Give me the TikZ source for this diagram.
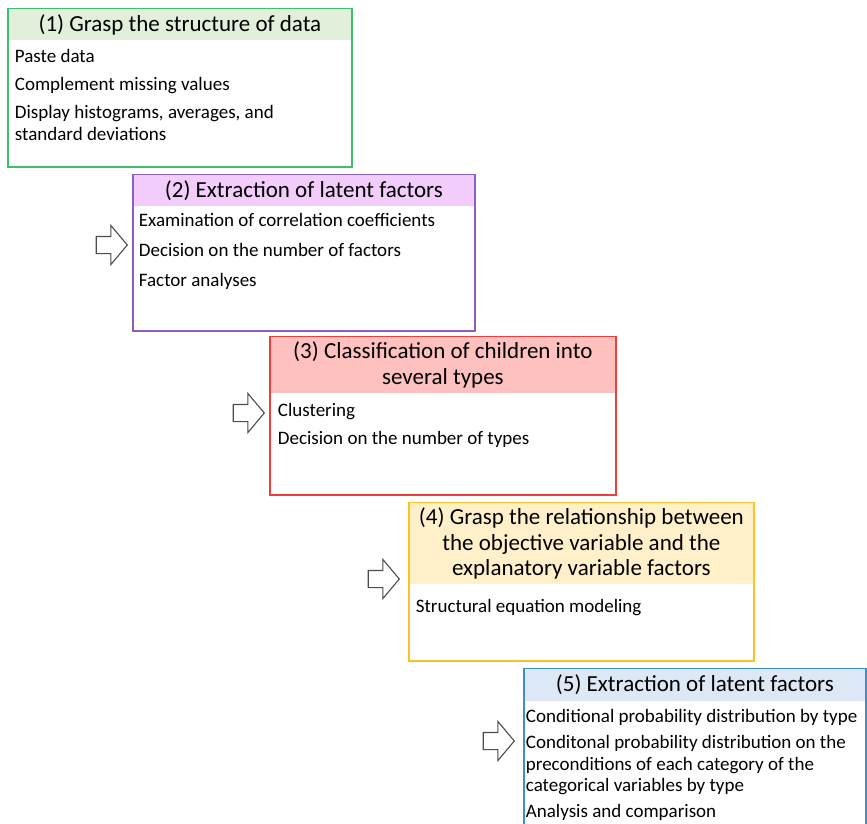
\documentclass[tikz,border=0pt]{standalone}
\usepackage{fontspec}
\setmainfont{Carlito}
\usepackage{tikz}
\usetikzlibrary{shapes.arrows, positioning}
\definecolor{stepgreen}{HTML}{3DBF6E}
\definecolor{steppurple}{HTML}{8C5EC2}
\definecolor{stepred}{HTML}{F03C3C}
\definecolor{stepgold}{HTML}{FFC12A}
\definecolor{stepblue}{HTML}{3F8DC9}
\definecolor{fillgreen}{HTML}{E2EFDA}
\definecolor{fillpurple}{HTML}{F2CCFA}
\definecolor{fillred}{HTML}{FFC0C0}
\definecolor{fillgold}{HTML}{FFF0C9}
\definecolor{fillblue}{HTML}{DCE8F5}

\begin{document}
\begin{tikzpicture}[x=1pt, y=-1pt,
        frame/.style={rectangle, draw=#1, line width=1.8pt, fill=white, anchor=north west, inner sep=0pt},
        head/.style={rectangle, fill=#1, anchor=north, inner sep=0pt, align=center, font=\fontsize{23}{25.5}\selectfont},
        items/.style={anchor=north west, inner sep=0pt, align=left, font=\fontsize{19}{22}\selectfont},
        blockarrow/.style={single arrow, draw=black!70, fill=white, line width=1.1pt, inner xsep=0pt, inner ysep=8pt, minimum height=31pt, single arrow head extend=11pt, single arrow tip angle=100, anchor=east}
    ]
        \useasboundingbox (0,0) rectangle (867,824);
        \clip (0,0) rectangle (867,824);

        % Boxes
        \node (step1) [frame=stepgreen, minimum width=344pt, minimum height=158pt] at (7,8) {};
        \node (head1) [head=fillgreen, minimum width=342pt, minimum height=31pt] at ([yshift=-0.9pt]step1.north) {(1) Grasp the structure of data};
        \node (body1) [items] at ([xshift=6pt, yshift=-9pt]head1.south west) {Paste data\\[6pt] Complement missing values\\[6pt] Display histograms, averages, and\\ standard deviations};

        \node (step2) [frame=steppurple, minimum width=342pt, minimum height=156pt] at (132,174) {};
        \node (head2) [head=fillpurple, minimum width=340pt, minimum height=31pt] at ([yshift=-0.9pt]step2.north) {(2) Extraction of latent factors};
        \node (body2) [items] at ([xshift=5pt, yshift=-7pt]head2.south west) {Examination of correlation coefficients\\[8pt] Decision on the number of factors\\[8pt] Factor analyses};

        \node (step3) [frame=stepred, minimum width=346pt, minimum height=158pt] at (269,336) {};
        \node (head3) [head=fillred, minimum width=344pt, minimum height=56pt] at ([yshift=-0.9pt]step3.north) {(3) Classification of children into\\ several types};
        \node (body3) [items] at ([xshift=7pt, yshift=-10pt]head3.south west) {Clustering\\[6pt] Decision on the number of types};

        \node (step4) [frame=stepgold, minimum width=345pt, minimum height=158pt] at (408,502) {};
        \node (head4) [head=fillgold, minimum width=343pt, minimum height=81pt] at ([yshift=-0.9pt]step4.north) {(4) Grasp the relationship between\\ the objective variable and the\\ explanatory variable factors};
        \node (body4) [items] at ([xshift=6pt, yshift=-15pt]head4.south west) {Structural equation modeling};

        \node (step5) [frame=stepblue, minimum width=342pt, minimum height=170pt] at (523,668) {};
        \node (head5) [head=fillblue, minimum width=340pt, minimum height=32pt] at ([yshift=-0.9pt]step5.north) {(5) Extraction of latent factors};
        \node (body5) [items, font=\fontsize{19}{21.5}\selectfont] at ([xshift=1pt, yshift=-8pt]head5.south west) {Conditional probability distribution by type\\[4.5pt] Conditonal probability distribution on the\\ preconditions of each category of the\\ categorical variables by type\\[4pt] Analysis and comparison};

        % Arrows
        \node (arr2) [blockarrow] at ([xshift=-4pt, yshift=-71pt]step2.north west) {};
        \node (arr3) [blockarrow] at ([xshift=-4pt, yshift=-77pt]step3.north west) {};
        \node (arr4) [blockarrow] at ([xshift=-8pt, yshift=-77pt]step4.north west) {};
        \node (arr5) [blockarrow] at ([xshift=-8pt, yshift=-73pt]step5.north west) {};

    \end{tikzpicture}
\end{document}
